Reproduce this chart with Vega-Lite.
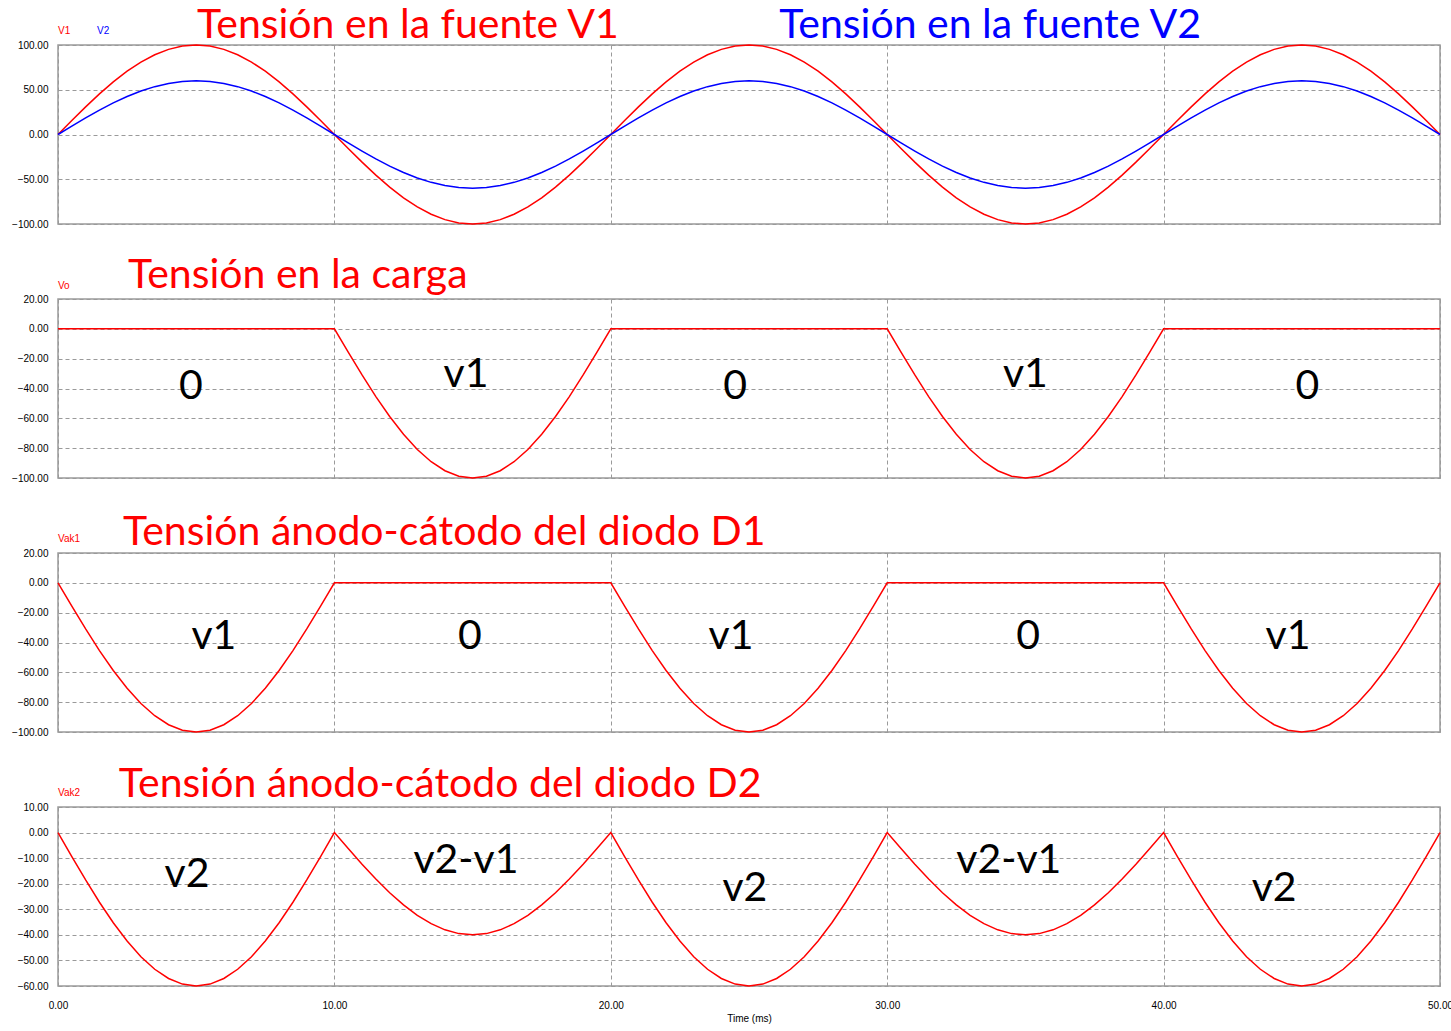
{
"$schema": "https://vega.github.io/schema/vega-lite/v6.json",
"autosize": {"type": "pad"},
"padding": {"left": 10, "top": 4, "right": 11, "bottom": 10},
"bounds": "flush",
"spacing": 75,
"background": "white",
"datasets": {
"wave": [
{"t":0,"V1":0,"V2":0,"Vo":0,"Vak1":0,"Vak2":0},
{"t":0.5,"V1":15.64,"V2":9.39,"Vo":0,"Vak1":-15.64,"Vak2":-9.39},
{"t":1,"V1":30.9,"V2":18.54,"Vo":0,"Vak1":-30.9,"Vak2":-18.54},
{"t":1.5,"V1":45.4,"V2":27.24,"Vo":0,"Vak1":-45.4,"Vak2":-27.24},
{"t":2,"V1":58.78,"V2":35.27,"Vo":0,"Vak1":-58.78,"Vak2":-35.27},
{"t":2.5,"V1":70.71,"V2":42.43,"Vo":0,"Vak1":-70.71,"Vak2":-42.43},
{"t":3,"V1":80.9,"V2":48.54,"Vo":0,"Vak1":-80.9,"Vak2":-48.54},
{"t":3.5,"V1":89.1,"V2":53.46,"Vo":0,"Vak1":-89.1,"Vak2":-53.46},
{"t":4,"V1":95.11,"V2":57.06,"Vo":0,"Vak1":-95.11,"Vak2":-57.06},
{"t":4.5,"V1":98.77,"V2":59.26,"Vo":0,"Vak1":-98.77,"Vak2":-59.26},
{"t":5,"V1":100,"V2":60,"Vo":0,"Vak1":-100,"Vak2":-60},
{"t":5.5,"V1":98.77,"V2":59.26,"Vo":0,"Vak1":-98.77,"Vak2":-59.26},
{"t":6,"V1":95.11,"V2":57.06,"Vo":0,"Vak1":-95.11,"Vak2":-57.06},
{"t":6.5,"V1":89.1,"V2":53.46,"Vo":0,"Vak1":-89.1,"Vak2":-53.46},
{"t":7,"V1":80.9,"V2":48.54,"Vo":0,"Vak1":-80.9,"Vak2":-48.54},
{"t":7.5,"V1":70.71,"V2":42.43,"Vo":0,"Vak1":-70.71,"Vak2":-42.43},
{"t":8,"V1":58.78,"V2":35.27,"Vo":0,"Vak1":-58.78,"Vak2":-35.27},
{"t":8.5,"V1":45.4,"V2":27.24,"Vo":0,"Vak1":-45.4,"Vak2":-27.24},
{"t":9,"V1":30.9,"V2":18.54,"Vo":0,"Vak1":-30.9,"Vak2":-18.54},
{"t":9.5,"V1":15.64,"V2":9.39,"Vo":0,"Vak1":-15.64,"Vak2":-9.39},
{"t":10,"V1":0,"V2":0,"Vo":0,"Vak1":0,"Vak2":0},
{"t":10.5,"V1":-15.64,"V2":-9.39,"Vo":-15.64,"Vak1":0,"Vak2":-6.26},
{"t":11,"V1":-30.9,"V2":-18.54,"Vo":-30.9,"Vak1":0,"Vak2":-12.36},
{"t":11.5,"V1":-45.4,"V2":-27.24,"Vo":-45.4,"Vak1":0,"Vak2":-18.16},
{"t":12,"V1":-58.78,"V2":-35.27,"Vo":-58.78,"Vak1":0,"Vak2":-23.51},
{"t":12.5,"V1":-70.71,"V2":-42.43,"Vo":-70.71,"Vak1":0,"Vak2":-28.28},
{"t":13,"V1":-80.9,"V2":-48.54,"Vo":-80.9,"Vak1":0,"Vak2":-32.36},
{"t":13.5,"V1":-89.1,"V2":-53.46,"Vo":-89.1,"Vak1":0,"Vak2":-35.64},
{"t":14,"V1":-95.11,"V2":-57.06,"Vo":-95.11,"Vak1":0,"Vak2":-38.04},
{"t":14.5,"V1":-98.77,"V2":-59.26,"Vo":-98.77,"Vak1":0,"Vak2":-39.51},
{"t":15,"V1":-100,"V2":-60,"Vo":-100,"Vak1":0,"Vak2":-40},
{"t":15.5,"V1":-98.77,"V2":-59.26,"Vo":-98.77,"Vak1":0,"Vak2":-39.51},
{"t":16,"V1":-95.11,"V2":-57.06,"Vo":-95.11,"Vak1":0,"Vak2":-38.04},
{"t":16.5,"V1":-89.1,"V2":-53.46,"Vo":-89.1,"Vak1":0,"Vak2":-35.64},
{"t":17,"V1":-80.9,"V2":-48.54,"Vo":-80.9,"Vak1":0,"Vak2":-32.36},
{"t":17.5,"V1":-70.71,"V2":-42.43,"Vo":-70.71,"Vak1":0,"Vak2":-28.28},
{"t":18,"V1":-58.78,"V2":-35.27,"Vo":-58.78,"Vak1":0,"Vak2":-23.51},
{"t":18.5,"V1":-45.4,"V2":-27.24,"Vo":-45.4,"Vak1":0,"Vak2":-18.16},
{"t":19,"V1":-30.9,"V2":-18.54,"Vo":-30.9,"Vak1":0,"Vak2":-12.36},
{"t":19.5,"V1":-15.64,"V2":-9.39,"Vo":-15.64,"Vak1":0,"Vak2":-6.26},
{"t":20,"V1":0,"V2":0,"Vo":0,"Vak1":0,"Vak2":0},
{"t":20.5,"V1":15.64,"V2":9.39,"Vo":0,"Vak1":-15.64,"Vak2":-9.39},
{"t":21,"V1":30.9,"V2":18.54,"Vo":0,"Vak1":-30.9,"Vak2":-18.54},
{"t":21.5,"V1":45.4,"V2":27.24,"Vo":0,"Vak1":-45.4,"Vak2":-27.24},
{"t":22,"V1":58.78,"V2":35.27,"Vo":0,"Vak1":-58.78,"Vak2":-35.27},
{"t":22.5,"V1":70.71,"V2":42.43,"Vo":0,"Vak1":-70.71,"Vak2":-42.43},
{"t":23,"V1":80.9,"V2":48.54,"Vo":0,"Vak1":-80.9,"Vak2":-48.54},
{"t":23.5,"V1":89.1,"V2":53.46,"Vo":0,"Vak1":-89.1,"Vak2":-53.46},
{"t":24,"V1":95.11,"V2":57.06,"Vo":0,"Vak1":-95.11,"Vak2":-57.06},
{"t":24.5,"V1":98.77,"V2":59.26,"Vo":0,"Vak1":-98.77,"Vak2":-59.26},
{"t":25,"V1":100,"V2":60,"Vo":0,"Vak1":-100,"Vak2":-60},
{"t":25.5,"V1":98.77,"V2":59.26,"Vo":0,"Vak1":-98.77,"Vak2":-59.26},
{"t":26,"V1":95.11,"V2":57.06,"Vo":0,"Vak1":-95.11,"Vak2":-57.06},
{"t":26.5,"V1":89.1,"V2":53.46,"Vo":0,"Vak1":-89.1,"Vak2":-53.46},
{"t":27,"V1":80.9,"V2":48.54,"Vo":0,"Vak1":-80.9,"Vak2":-48.54},
{"t":27.5,"V1":70.71,"V2":42.43,"Vo":0,"Vak1":-70.71,"Vak2":-42.43},
{"t":28,"V1":58.78,"V2":35.27,"Vo":0,"Vak1":-58.78,"Vak2":-35.27},
{"t":28.5,"V1":45.4,"V2":27.24,"Vo":0,"Vak1":-45.4,"Vak2":-27.24},
{"t":29,"V1":30.9,"V2":18.54,"Vo":0,"Vak1":-30.9,"Vak2":-18.54},
{"t":29.5,"V1":15.64,"V2":9.39,"Vo":0,"Vak1":-15.64,"Vak2":-9.39},
{"t":30,"V1":0,"V2":0,"Vo":0,"Vak1":0,"Vak2":0},
{"t":30.5,"V1":-15.64,"V2":-9.39,"Vo":-15.64,"Vak1":0,"Vak2":-6.26},
{"t":31,"V1":-30.9,"V2":-18.54,"Vo":-30.9,"Vak1":0,"Vak2":-12.36},
{"t":31.5,"V1":-45.4,"V2":-27.24,"Vo":-45.4,"Vak1":0,"Vak2":-18.16},
{"t":32,"V1":-58.78,"V2":-35.27,"Vo":-58.78,"Vak1":0,"Vak2":-23.51},
{"t":32.5,"V1":-70.71,"V2":-42.43,"Vo":-70.71,"Vak1":0,"Vak2":-28.28},
{"t":33,"V1":-80.9,"V2":-48.54,"Vo":-80.9,"Vak1":0,"Vak2":-32.36},
{"t":33.5,"V1":-89.1,"V2":-53.46,"Vo":-89.1,"Vak1":0,"Vak2":-35.64},
{"t":34,"V1":-95.11,"V2":-57.06,"Vo":-95.11,"Vak1":0,"Vak2":-38.04},
{"t":34.5,"V1":-98.77,"V2":-59.26,"Vo":-98.77,"Vak1":0,"Vak2":-39.51},
{"t":35,"V1":-100,"V2":-60,"Vo":-100,"Vak1":0,"Vak2":-40},
{"t":35.5,"V1":-98.77,"V2":-59.26,"Vo":-98.77,"Vak1":0,"Vak2":-39.51},
{"t":36,"V1":-95.11,"V2":-57.06,"Vo":-95.11,"Vak1":0,"Vak2":-38.04},
{"t":36.5,"V1":-89.1,"V2":-53.46,"Vo":-89.1,"Vak1":0,"Vak2":-35.64},
{"t":37,"V1":-80.9,"V2":-48.54,"Vo":-80.9,"Vak1":0,"Vak2":-32.36},
{"t":37.5,"V1":-70.71,"V2":-42.43,"Vo":-70.71,"Vak1":0,"Vak2":-28.28},
{"t":38,"V1":-58.78,"V2":-35.27,"Vo":-58.78,"Vak1":0,"Vak2":-23.51},
{"t":38.5,"V1":-45.4,"V2":-27.24,"Vo":-45.4,"Vak1":0,"Vak2":-18.16},
{"t":39,"V1":-30.9,"V2":-18.54,"Vo":-30.9,"Vak1":0,"Vak2":-12.36},
{"t":39.5,"V1":-15.64,"V2":-9.39,"Vo":-15.64,"Vak1":0,"Vak2":-6.26},
{"t":40,"V1":0,"V2":0,"Vo":0,"Vak1":0,"Vak2":0},
{"t":40.5,"V1":15.64,"V2":9.39,"Vo":0,"Vak1":-15.64,"Vak2":-9.39},
{"t":41,"V1":30.9,"V2":18.54,"Vo":0,"Vak1":-30.9,"Vak2":-18.54},
{"t":41.5,"V1":45.4,"V2":27.24,"Vo":0,"Vak1":-45.4,"Vak2":-27.24},
{"t":42,"V1":58.78,"V2":35.27,"Vo":0,"Vak1":-58.78,"Vak2":-35.27},
{"t":42.5,"V1":70.71,"V2":42.43,"Vo":0,"Vak1":-70.71,"Vak2":-42.43},
{"t":43,"V1":80.9,"V2":48.54,"Vo":0,"Vak1":-80.9,"Vak2":-48.54},
{"t":43.5,"V1":89.1,"V2":53.46,"Vo":0,"Vak1":-89.1,"Vak2":-53.46},
{"t":44,"V1":95.11,"V2":57.06,"Vo":0,"Vak1":-95.11,"Vak2":-57.06},
{"t":44.5,"V1":98.77,"V2":59.26,"Vo":0,"Vak1":-98.77,"Vak2":-59.26},
{"t":45,"V1":100,"V2":60,"Vo":0,"Vak1":-100,"Vak2":-60},
{"t":45.5,"V1":98.77,"V2":59.26,"Vo":0,"Vak1":-98.77,"Vak2":-59.26},
{"t":46,"V1":95.11,"V2":57.06,"Vo":0,"Vak1":-95.11,"Vak2":-57.06},
{"t":46.5,"V1":89.1,"V2":53.46,"Vo":0,"Vak1":-89.1,"Vak2":-53.46},
{"t":47,"V1":80.9,"V2":48.54,"Vo":0,"Vak1":-80.9,"Vak2":-48.54},
{"t":47.5,"V1":70.71,"V2":42.43,"Vo":0,"Vak1":-70.71,"Vak2":-42.43},
{"t":48,"V1":58.78,"V2":35.27,"Vo":0,"Vak1":-58.78,"Vak2":-35.27},
{"t":48.5,"V1":45.4,"V2":27.24,"Vo":0,"Vak1":-45.4,"Vak2":-27.24},
{"t":49,"V1":30.9,"V2":18.54,"Vo":0,"Vak1":-30.9,"Vak2":-18.54},
{"t":49.5,"V1":15.64,"V2":9.39,"Vo":0,"Vak1":-15.64,"Vak2":-9.39},
{"t":50,"V1":0,"V2":0,"Vo":0,"Vak1":0,"Vak2":0}
],
"notes": [
{"panel":1,"kind":"title","t":5.03,"v":121.4,"label":"Tensión en la fuente V1","src":"V1"},
{"panel":1,"kind":"title","t":26.09,"v":121.4,"label":"Tensión en la fuente V2","src":"V2"},
{"panel":1,"kind":"tag","t":0,"v":115.7,"label":"V1","src":"V1"},
{"panel":1,"kind":"tag","t":1.41,"v":115.7,"label":"V2","src":"V2"},
{"panel":2,"kind":"title","t":2.53,"v":35.5,"label":"Tensión en la carga","src":"V1"},
{"panel":2,"kind":"tag","t":0,"v":28.7,"label":"Vo","src":"V1"},
{"panel":3,"kind":"title","t":2.35,"v":33.5,"label":"Tensión ánodo-cátodo del diodo D1","src":"V1"},
{"panel":3,"kind":"tag","t":0,"v":29.4,"label":"Vak1","src":"V1"},
{"panel":4,"kind":"title","t":2.2,"v":18.6,"label":"Tensión ánodo-cátodo del diodo D2","src":"V1"},
{"panel":4,"kind":"tag","t":0,"v":15.5,"label":"Vak2","src":"V1"},
{"panel":2,"kind":"value","t":4.81,"v":-39,"label":"0","src":"V1"},
{"panel":2,"kind":"value","t":14.76,"v":-31,"label":"v1","src":"V1"},
{"panel":2,"kind":"value","t":24.5,"v":-39,"label":"0","src":"V1"},
{"panel":2,"kind":"value","t":35.0,"v":-31,"label":"v1","src":"V1"},
{"panel":2,"kind":"value","t":45.2,"v":-39,"label":"0","src":"V1"},
{"panel":3,"kind":"value","t":5.64,"v":-36.3,"label":"v1","src":"V1"},
{"panel":3,"kind":"value","t":14.9,"v":-36.3,"label":"0","src":"V1"},
{"panel":3,"kind":"value","t":24.35,"v":-36.3,"label":"v1","src":"V1"},
{"panel":3,"kind":"value","t":35.1,"v":-36.3,"label":"0","src":"V1"},
{"panel":3,"kind":"value","t":44.5,"v":-36.3,"label":"v1","src":"V1"},
{"panel":4,"kind":"value","t":4.67,"v":-16.6,"label":"v2","src":"V1"},
{"panel":4,"kind":"value","t":14.76,"v":-11.1,"label":"v2-v1","src":"V1"},
{"panel":4,"kind":"value","t":24.85,"v":-22.1,"label":"v2","src":"V1"},
{"panel":4,"kind":"value","t":34.4,"v":-11.1,"label":"v2-v1","src":"V1"},
{"panel":4,"kind":"value","t":44.0,"v":-22.1,"label":"v2","src":"V1"}
]
},
"config": {
"view": {"stroke": "#9a9a9a", "strokeWidth": 1.5},
"axis": {"gridColor": "#9a9a9a", "gridDash": [4, 3], "gridWidth": 1, "gridOpacity": 1, "domain": false, "ticks": false, "tickCount": 20, "labelOverlap": false, "labelFlush": false, "labelBound": false, "labelFont": "Liberation Sans", "labelFontSize": 10, "labelColor": "#000000", "titleFont": "Liberation Sans", "titleFontSize": 10, "titleFontWeight": "normal", "titleColor": "#000000"},
"text": {"font": "Lato"}
},
"vconcat": [
{
"width": 1382, "height": 179,
"layer": [
{"data": {"name": "wave"}, "mark": {"type": "line", "color": "#ff0000", "strokeWidth": 1.5},
 "encoding": {
  "x": {"field": "t", "type": "quantitative", "scale": {"domain": [0, 50], "nice": false}, "axis": {"values": [0, 10, 20, 30, 40, 50], "tickCount": 20, "labels": false, "title": null}},
  "y": {"field": "V1", "type": "quantitative", "scale": {"domain": [-100, 100], "nice": false}, "axis": {"values": [-100, -50, 0, 50, 100], "tickCount": 20, "format": ".2f", "title": null, "labelPadding": 10, "labelOverlap": false}}}},
{"data": {"name": "wave"}, "mark": {"type": "line", "color": "#0000ff", "strokeWidth": 1.5},
 "encoding": {"x": {"field": "t", "type": "quantitative"}, "y": {"field": "V2", "type": "quantitative"}}},
{"data": {"name": "notes"}, "transform": [{"filter": "datum.panel == 1 && datum.kind == 'title'"}],
 "mark": {"type": "text", "align": "left", "baseline": "middle", "fontSize": 41},
 "encoding": {"x": {"field": "t", "type": "quantitative"}, "y": {"field": "v", "type": "quantitative"}, "text": {"field": "label"},
  "color": {"field": "src", "type": "nominal", "scale": {"domain": ["V1", "V2"], "range": ["#ff0000", "#0000ff"]}, "legend": null}}},
{"data": {"name": "notes"}, "transform": [{"filter": "datum.panel == 1 && datum.kind == 'tag'"}],
 "mark": {"type": "text", "align": "left", "baseline": "middle", "fontSize": 10, "font": "Liberation Sans"},
 "encoding": {"x": {"field": "t", "type": "quantitative"}, "y": {"field": "v", "type": "quantitative"}, "text": {"field": "label"},
  "color": {"field": "src", "type": "nominal", "scale": {"domain": ["V1", "V2"], "range": ["#ff0000", "#0000ff"]}, "legend": null}}}
]
},
{
"width": 1382, "height": 179,
"layer": [
{"data": {"name": "wave"}, "mark": {"type": "line", "color": "#ff0000", "strokeWidth": 1.5},
 "encoding": {
  "x": {"field": "t", "type": "quantitative", "scale": {"domain": [0, 50], "nice": false}, "axis": {"values": [0, 10, 20, 30, 40, 50], "tickCount": 20, "labels": false, "title": null}},
  "y": {"field": "Vo", "type": "quantitative", "scale": {"domain": [-100, 20], "nice": false}, "axis": {"values": [-100, -80, -60, -40, -20, 0, 20], "tickCount": 20, "format": ".2f", "title": null, "labelPadding": 10, "labelOverlap": false}}}},
{"data": {"name": "notes"}, "transform": [{"filter": "datum.panel == 2 && datum.kind == 'title'"}],
 "mark": {"type": "text", "align": "left", "baseline": "middle", "fontSize": 41, "color": "#ff0000"},
 "encoding": {"x": {"field": "t", "type": "quantitative"}, "y": {"field": "v", "type": "quantitative"}, "text": {"field": "label"}}},
{"data": {"name": "notes"}, "transform": [{"filter": "datum.panel == 2 && datum.kind == 'tag'"}],
 "mark": {"type": "text", "align": "left", "baseline": "middle", "fontSize": 10, "font": "Liberation Sans", "color": "#ff0000"},
 "encoding": {"x": {"field": "t", "type": "quantitative"}, "y": {"field": "v", "type": "quantitative"}, "text": {"field": "label"}}},
{"data": {"name": "notes"}, "transform": [{"filter": "datum.panel == 2 && datum.kind == 'value'"}],
 "mark": {"type": "text", "align": "center", "baseline": "middle", "fontSize": 41, "color": "#000000"},
 "encoding": {"x": {"field": "t", "type": "quantitative"}, "y": {"field": "v", "type": "quantitative"}, "text": {"field": "label"}}}
]
},
{
"width": 1382, "height": 179,
"layer": [
{"data": {"name": "wave"}, "mark": {"type": "line", "color": "#ff0000", "strokeWidth": 1.5},
 "encoding": {
  "x": {"field": "t", "type": "quantitative", "scale": {"domain": [0, 50], "nice": false}, "axis": {"values": [0, 10, 20, 30, 40, 50], "tickCount": 20, "labels": false, "title": null}},
  "y": {"field": "Vak1", "type": "quantitative", "scale": {"domain": [-100, 20], "nice": false}, "axis": {"values": [-100, -80, -60, -40, -20, 0, 20], "tickCount": 20, "format": ".2f", "title": null, "labelPadding": 10, "labelOverlap": false}}}},
{"data": {"name": "notes"}, "transform": [{"filter": "datum.panel == 3 && datum.kind == 'title'"}],
 "mark": {"type": "text", "align": "left", "baseline": "middle", "fontSize": 41, "color": "#ff0000"},
 "encoding": {"x": {"field": "t", "type": "quantitative"}, "y": {"field": "v", "type": "quantitative"}, "text": {"field": "label"}}},
{"data": {"name": "notes"}, "transform": [{"filter": "datum.panel == 3 && datum.kind == 'tag'"}],
 "mark": {"type": "text", "align": "left", "baseline": "middle", "fontSize": 10, "font": "Liberation Sans", "color": "#ff0000"},
 "encoding": {"x": {"field": "t", "type": "quantitative"}, "y": {"field": "v", "type": "quantitative"}, "text": {"field": "label"}}},
{"data": {"name": "notes"}, "transform": [{"filter": "datum.panel == 3 && datum.kind == 'value'"}],
 "mark": {"type": "text", "align": "center", "baseline": "middle", "fontSize": 41, "color": "#000000"},
 "encoding": {"x": {"field": "t", "type": "quantitative"}, "y": {"field": "v", "type": "quantitative"}, "text": {"field": "label"}}}
]
},
{
"width": 1382, "height": 179,
"layer": [
{"data": {"name": "wave"}, "mark": {"type": "line", "color": "#ff0000", "strokeWidth": 1.5},
 "encoding": {
  "x": {"field": "t", "type": "quantitative", "scale": {"domain": [0, 50], "nice": false}, "axis": {"values": [0, 10, 20, 30, 40, 50], "tickCount": 20, "format": ".2f", "title": "Time (ms)", "labelPadding": 14, "titlePadding": 3, "labelOverlap": false}},
  "y": {"field": "Vak2", "type": "quantitative", "scale": {"domain": [-60, 10], "nice": false}, "axis": {"values": [-60, -50, -40, -30, -20, -10, 0, 10], "tickCount": 20, "format": ".2f", "title": null, "labelPadding": 10, "labelOverlap": false}}}},
{"data": {"name": "notes"}, "transform": [{"filter": "datum.panel == 4 && datum.kind == 'title'"}],
 "mark": {"type": "text", "align": "left", "baseline": "middle", "fontSize": 41, "color": "#ff0000"},
 "encoding": {"x": {"field": "t", "type": "quantitative"}, "y": {"field": "v", "type": "quantitative"}, "text": {"field": "label"}}},
{"data": {"name": "notes"}, "transform": [{"filter": "datum.panel == 4 && datum.kind == 'tag'"}],
 "mark": {"type": "text", "align": "left", "baseline": "middle", "fontSize": 10, "font": "Liberation Sans", "color": "#ff0000"},
 "encoding": {"x": {"field": "t", "type": "quantitative"}, "y": {"field": "v", "type": "quantitative"}, "text": {"field": "label"}}},
{"data": {"name": "notes"}, "transform": [{"filter": "datum.panel == 4 && datum.kind == 'value'"}],
 "mark": {"type": "text", "align": "center", "baseline": "middle", "fontSize": 41, "color": "#000000"},
 "encoding": {"x": {"field": "t", "type": "quantitative"}, "y": {"field": "v", "type": "quantitative"}, "text": {"field": "label"}}}
]
}
]
}
